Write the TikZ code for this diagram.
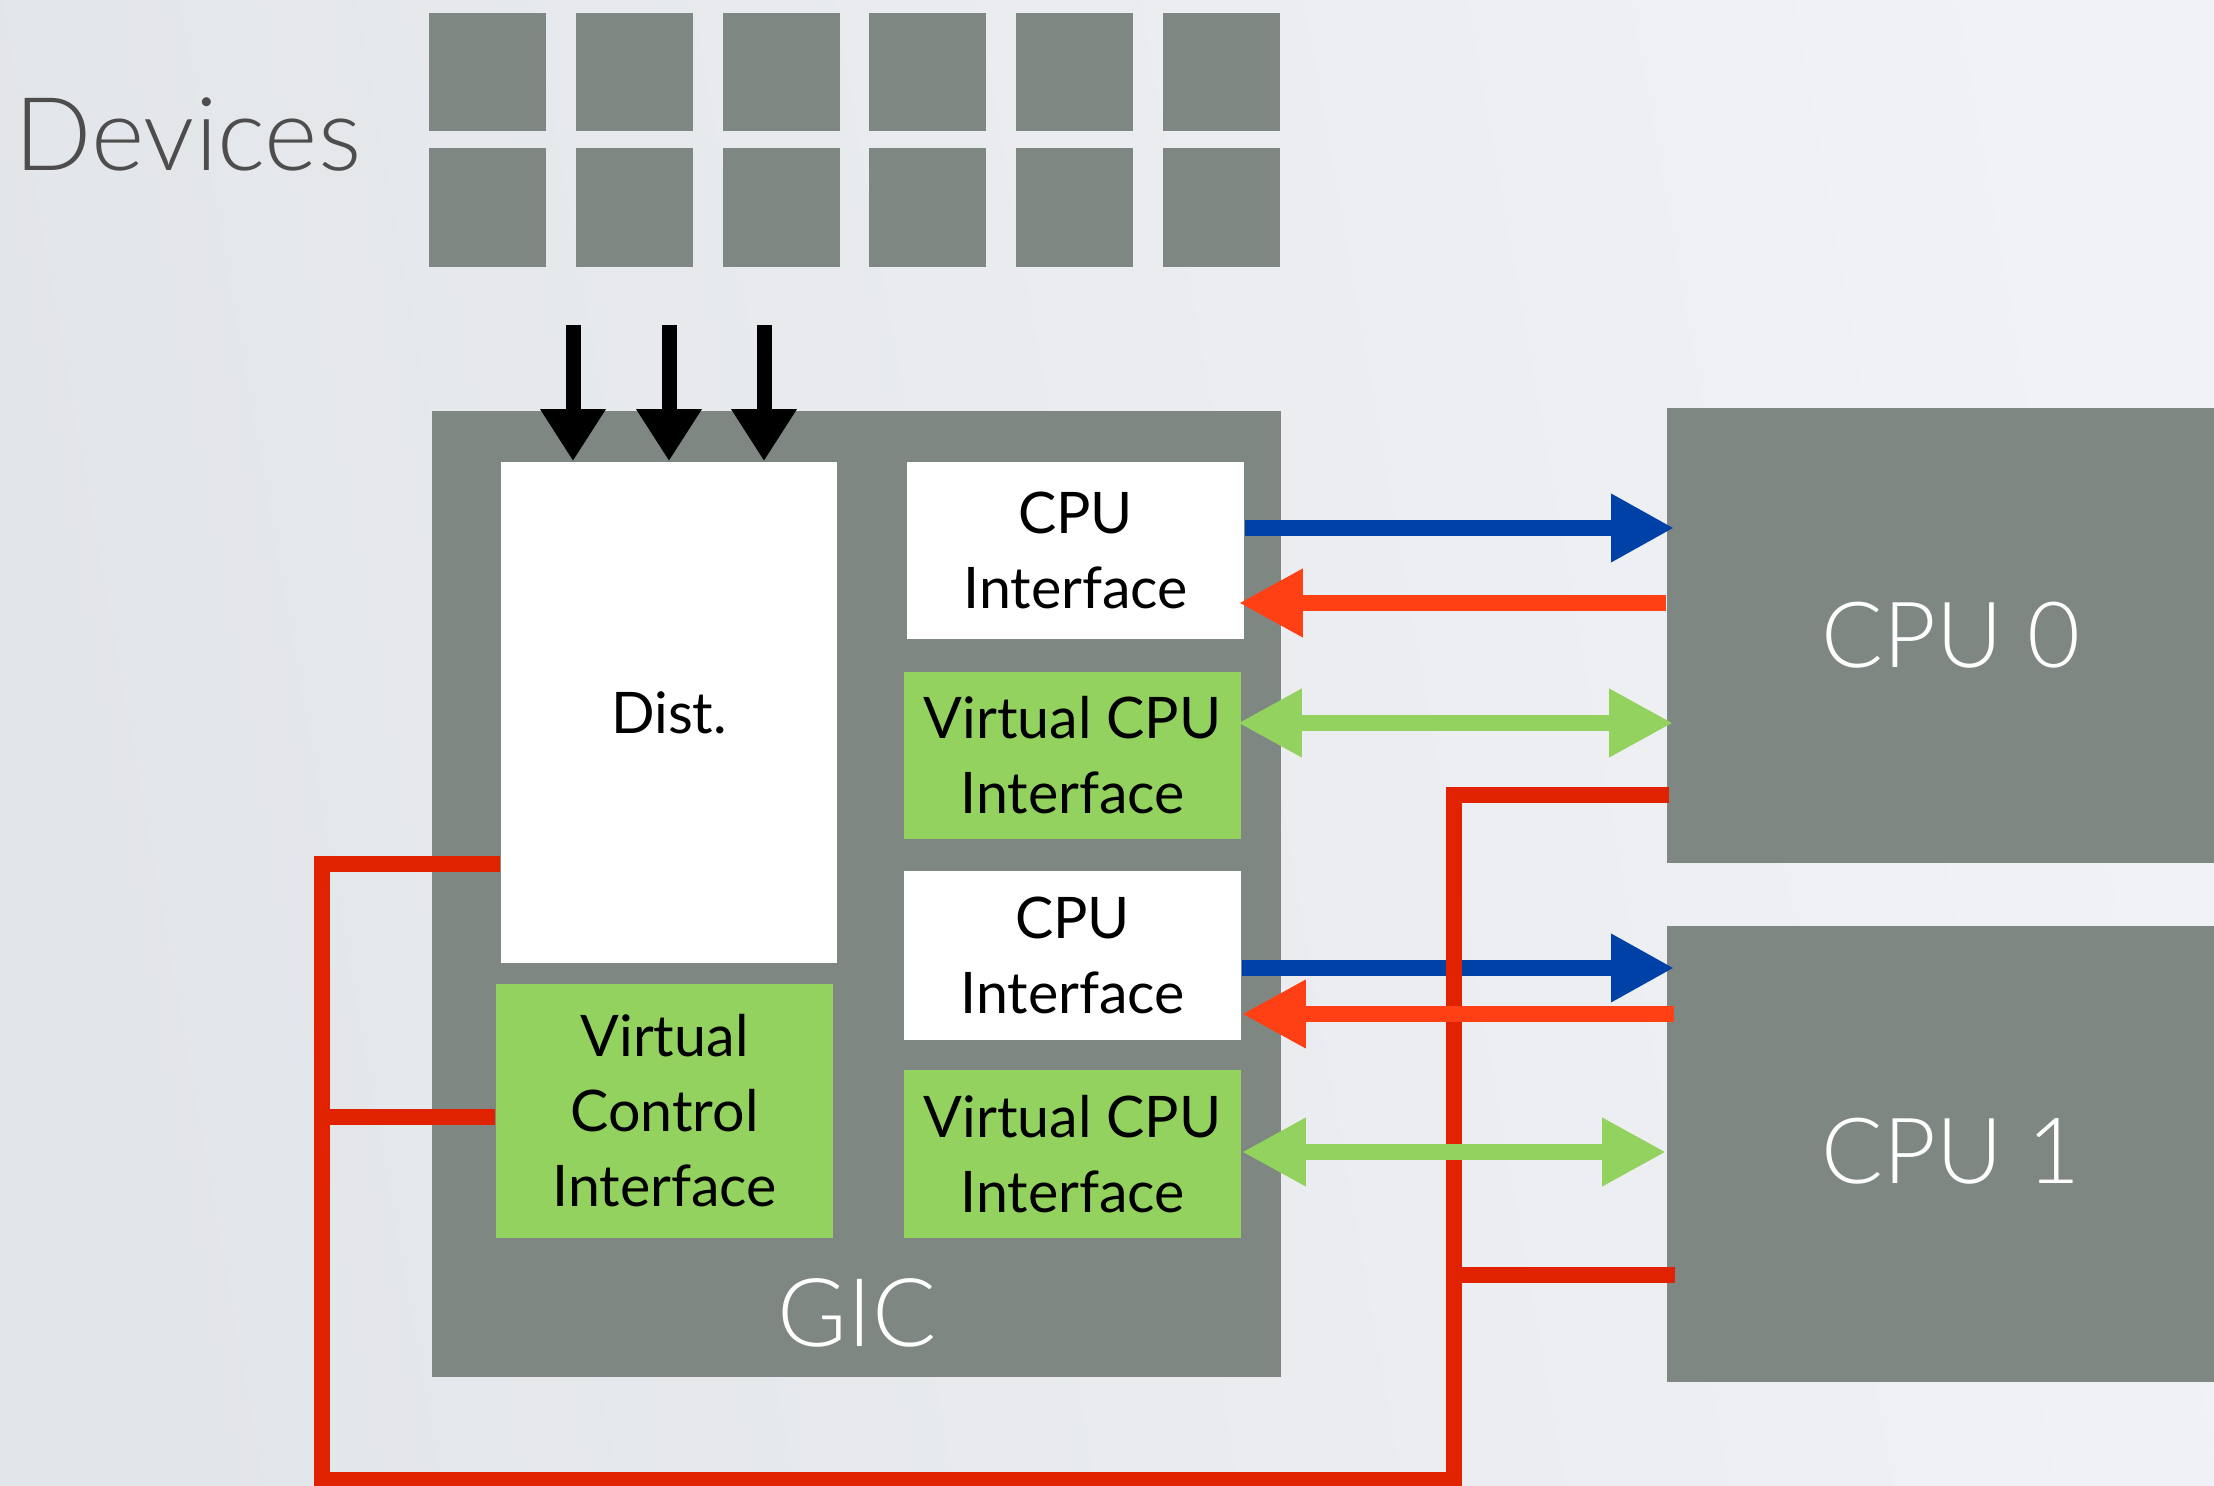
\documentclass[tikz,border=0pt]{standalone}
\usepackage{fontspec}
\setmainfont{Lato}
\newfontfamily\lightfont{Lato Light}
\usetikzlibrary{arrows.meta}
\definecolor{bgA}{RGB}{226,229,233}
\definecolor{bgB}{RGB}{241,242,245}
\definecolor{boxgray}{RGB}{127,135,131}
\definecolor{vgreen}{RGB}{147,210,94}
\definecolor{ablue}{RGB}{0,65,168}
\definecolor{aorange}{RGB}{255,64,20}
\definecolor{lred}{RGB}{224,34,0}
\definecolor{devtext}{RGB}{77,77,77}
\begin{document}
\begin{tikzpicture}[x=0.01cm,y=-0.01cm,
  devbox/.style={fill=boxgray,draw=none,inner sep=0pt,minimum width=1.17cm,minimum height=1.18cm},
  graybox/.style={fill=boxgray,draw=none,inner sep=0pt},
  whitebox/.style={fill=white,draw=none,inner sep=0pt,align=center,font=\fontsize{16.3}{21.3}\selectfont},
  greenbox/.style={fill=vgreen,draw=none,inner sep=0pt,align=center,font=\fontsize{16.3}{21.3}\selectfont},
  inarrow/.style={line width=0.15cm,black,-{Triangle[length=0.52cm,width=0.62cm]}},
  bluearrow/.style={line width=0.16cm,ablue,-{Triangle[length=0.63cm,width=0.64cm]}},
  orangearrow/.style={line width=0.16cm,aorange,-{Triangle[length=0.64cm,width=0.64cm]}},
  greenarrow/.style={line width=0.16cm,vgreen,{Triangle[length=0.64cm,width=0.64cm]}-{Triangle[length=0.64cm,width=0.64cm]}},
  redline/.style={line width=0.16cm,lred,line join=miter}
]
\useasboundingbox (0,0) rectangle (2214,1486);
\shade[left color=bgA,right color=bgB,shading angle=100] (0,0) rectangle (2214,1486);

% Devices
\node[anchor=base west,inner sep=0pt,text=devtext,font=\lightfont\fontsize{29}{35}\selectfont] (devlabel) at (14,171) {Devices};
\foreach \i in {0,...,5}{
  \node[devbox] (devA\i) at ({487.5+146.8*\i},72) {};
  \node[devbox] (devB\i) at ({487.5+146.8*\i},207.5) {};
}

% GIC
\node[graybox,minimum width=8.49cm,minimum height=9.66cm] (gic) at (856.5,894) {};
\node[whitebox,minimum width=3.36cm,minimum height=5.01cm] (dist) at (669,712.5) {Dist.};
\node[greenbox,minimum width=3.37cm,minimum height=2.54cm] (vctrl) at (664.5,1111) {Virtual\\Control\\Interface};
\node[whitebox,minimum width=3.37cm,minimum height=1.77cm] (cpuifA) at (1075.5,550.5) {CPU\\Interface};
\node[greenbox,minimum width=3.37cm,minimum height=1.67cm] (vcpuA) at (1072.5,755.5) {Virtual CPU\\Interface};
\node[whitebox,minimum width=3.37cm,minimum height=1.69cm] (cpuifB) at (1072.5,955.5) {CPU\\Interface};
\node[greenbox,minimum width=3.37cm,minimum height=1.68cm] (vcpuB) at (1072.5,1154) {Virtual CPU\\Interface};
\node[text=white,inner sep=0pt,font=\lightfont\fontsize{27}{32}\selectfont] (giclabel) at (857,1313) {GIC};

% CPUs
\node[graybox,minimum width=5.47cm,minimum height=4.55cm] (cpu0) at (1940.5,635.5) {};
\node[graybox,minimum width=5.47cm,minimum height=4.56cm] (cpu1) at (1940.5,1154) {};
\node[anchor=west,text=white,inner sep=0pt,font=\lightfont\fontsize{26}{31}\selectfont] (cpu0label) at (1821,635) {CPU 0};
\node[anchor=west,text=white,inner sep=0pt,font=\lightfont\fontsize{26}{31}\selectfont] (cpu1label) at (1821,1151) {CPU 1};

% interrupt inputs
\coordinate (inA) at (573,325);
\coordinate (inB) at (669,325);
\coordinate (inC) at (764,325);
\draw[inarrow] (inA) -- (inA |- dist.north);
\draw[inarrow] (inB) -- (inB |- dist.north);
\draw[inarrow] (inC) -- (inC |- dist.north);

% blue arrows
\draw[bluearrow,shorten >=-0.08cm] (cpuifA.east |- 0,528) -- (cpu0.west |- 0,528);
\draw[bluearrow,shorten >=-0.08cm] (cpuifB.east |- 0,968) -- (cpu1.west |- 0,968);

% red lines
\draw[redline] ([xshift=0.03cm]cpu0.west |- 0,795) -| (1454,1480) -| (322,864) -- (dist.west |- 0,864);
\draw[redline] (322,1117) -- (vctrl.west |- 0,1117);
\draw[redline] (1454,1275) -- ([xshift=0.09cm]cpu1.west |- 0,1275);

% orange arrows
\draw[orangearrow,shorten >=-0.06cm] (cpu0.west |- 0,603) -- (cpuifA.east |- 0,603);
\draw[orangearrow,shorten <=-0.08cm] (cpu1.west |- 0,1014) -- (cpuifB.east |- 0,1014);

% green arrows
\draw[greenarrow,shorten <=-0.04cm,shorten >=-0.07cm] (vcpuA.east |- 0,723) -- (cpu0.west |- 0,723);
\draw[greenarrow] (vcpuB.east |- 0,1152) -- (cpu1.west |- 0,1152);
\end{tikzpicture}
\end{document}
